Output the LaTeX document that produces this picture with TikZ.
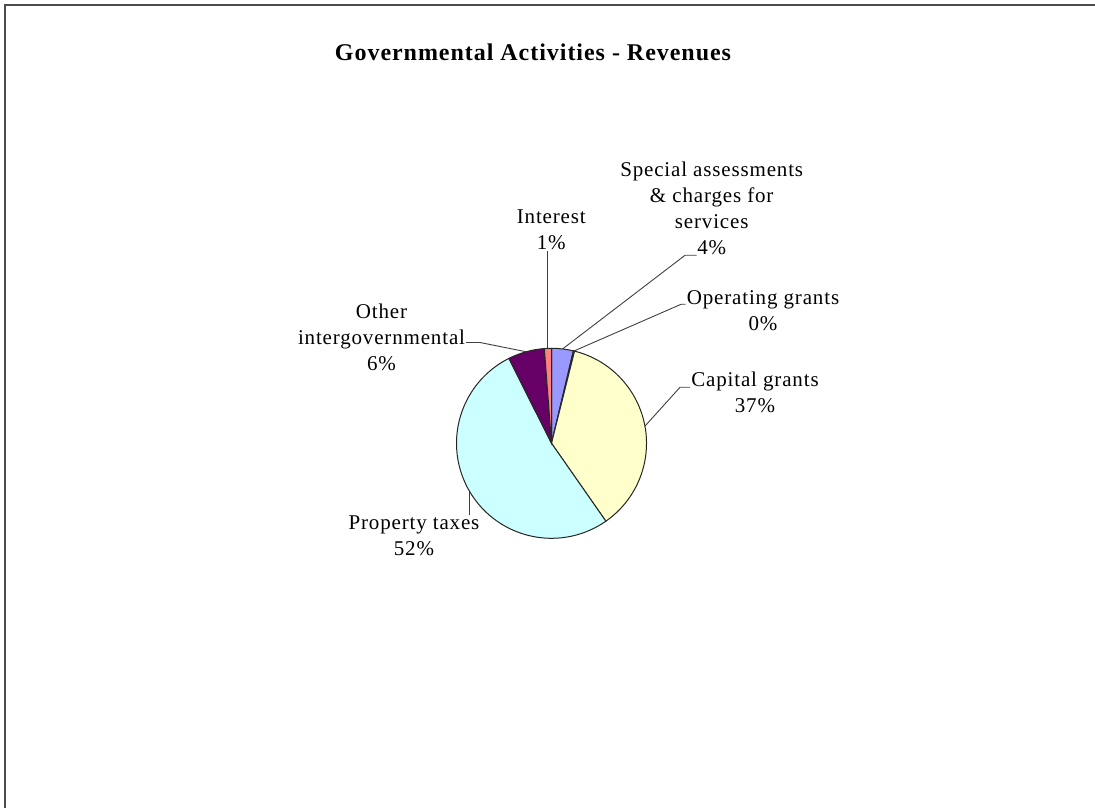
\documentclass[tikz,border=0pt]{standalone}
\usepackage{fontspec}
\setmainfont{Liberation Serif}[LetterSpace=4]
\definecolor{special}{HTML}{9999FF}
\definecolor{opgrant}{HTML}{993366}
\definecolor{capgrant}{HTML}{FFFFCC}
\definecolor{proptax}{HTML}{CCFFFF}
\definecolor{other}{HTML}{660066}
\definecolor{interest}{HTML}{FF8080}
\tikzset{
  slice/.style={draw=black!85,line width=1pt},
  leader/.style={draw=black!75,line width=0.9pt},
  lbl/.style={align=center,inner sep=1pt,font=\fontsize{21}{26}\selectfont}
}
\begin{document}
\begin{tikzpicture}[x=1pt,y=1pt]
    \useasboundingbox (0,0) rectangle (1095,808);
    \draw[black!70,line width=2pt] (5,0) -- (5,803) -- (1095,803);
    \node (title) at (533,756) {\fontsize{24}{28}\selectfont\bfseries Governmental Activities - Revenues};
    % pie, clockwise from the top
    \coordinate (C) at (551.5,364.7);
    \foreach \a/\b/\c in {90/76.68/special,76.68/75.96/opgrant,75.96/-55.08/capgrant,
      -55.08/-243.36/proptax,-243.36/-265.68/other,-265.68/-270/interest}
    \filldraw[slice,fill=\c] (C) -- ++(\a:95pt) arc[start angle=\a,end angle=\b,radius=95pt] -- cycle;
    \foreach \n/\m in {s/83.3,o/76.3,cap/10.4,p/210.8,oth/105.5,i/92.2}
    \path (C) ++(\m:95pt) coordinate (\n-rim);
    % labels
    \node[lbl] (interest) at (551.3,578) {Interest\\1\%};
    \node[lbl] (special) at (711.7,599.7) {Special assessments\\\& charges for\\services\\4\%};
    \node[lbl] (opgrant) at (763,497) {Operating grants\\0\%};
    \node[lbl] (capgrant) at (755,416) {Capital grants\\37\%};
    \node[lbl] (other) at (381.5,470.5) {Other\\intergovernmental\\6\%};
    \node[lbl] (proptax) at (414,272) {Property taxes\\52\%};
    \coordinate (s-elbow) at (685,552.7);
    \coordinate (o-elbow) at (681,503.7);
    \coordinate (cap-elbow) at (680,420.7);
    \coordinate (oth-elbow) at (480,465.5);
    % leader lines
    \draw[leader] (i-rim) -- (i-rim |- interest.south);
    \draw[leader] (s-rim) -- (s-elbow) -- ++(11.7,0);
    \draw[leader] (o-rim) -- (o-elbow) -- (o-elbow -| opgrant.west);
    \draw[leader] (cap-rim) -- (cap-elbow) -- (cap-elbow -| capgrant.west);
    \draw[leader] (oth-rim) -- (oth-elbow) -- (oth-elbow -| other.east);
    \draw[leader] (p-rim) -- (p-rim |- proptax.north);
  \end{tikzpicture}
\end{document}
